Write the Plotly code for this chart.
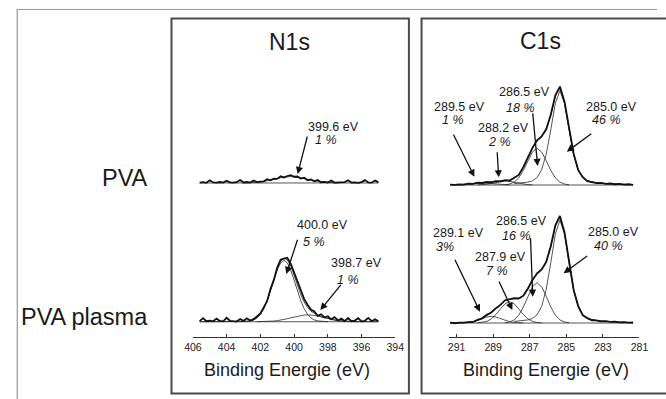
import numpy as np
import plotly.graph_objects as go

W, H = 666, 399

# ---------------- data (intensities in a.u.) ----------------
# N1s energy grid (eV) and spectra
N1S_E = np.round(np.linspace(405.6, 395.0, 54), 2)

n1s_pva_data = [0.4, 0.8, 0.2, 2.6, 0.5, 0.3, 0.9, 0.4, 2.2, 0.6, 0.3, 0.7, 2.8,
                0.5, 0.9, 0.4, 2.4, 0.8, 1.3, 1.6, 3.6, 2.5, 4.1, 3.9, 6.3, 5.2, 6.6,
                7.4, 5.9, 6.1, 4.2, 5.0, 2.6, 3.4, 1.6, 2.9, 0.7, 1.1, 0.5, 2.3, 0.4,
                0.6, 0.3, 0.8, 2.5, 0.4, 0.6, 0.2, 0.9, 2.7, 0.5, 0.3, 2.4, 0.6]
n1s_pva_fit = [0.07, 0.12, 0.22, 0.38, 0.61, 0.94, 1.39, 1.95, 2.63, 3.38, 4.16, 4.88,
               5.48, 5.86, 6.0, 5.86, 5.48, 4.88, 4.16, 3.38, 2.63, 1.95, 1.39, 0.94,
               0.61, 0.38, 0.22, 0.12, 0.07]          # grid index 13..41

n1s_pl_data = [0.6, 3.4, 0.5, 1.0, 0.4, 2.9, 0.7, 0.3, 3.8, 0.9, 0.5, 0.2, 2.6,
               0.8, 3.2, 1.1, 2.4, 5.1, 7.8, 13.6, 19.4, 30.8, 39.5, 51.2, 58.6, 59.6,
               60.4, 54.9, 46.3, 37.4, 28.2, 21.3, 16.0, 11.5, 9.6, 5.6, 7.1, 4.0, 5.2,
               2.3, 4.4, 1.2, 2.9, 0.6, 3.5, 0.5, 1.1,
               3.3, 0.4, 0.9, 3.6, 0.5, 2.2, 0.4]
n1s_pl_env = [0, 0, 0, 0, 0, 0, 0, 0, 0, 0, 0, 0, 0, 0.1, 0.3, 0.8, 1.7, 3.6, 7.0, 12.3,
              19.8, 29.4, 40.0, 49.8, 57.0, 60.1, 58.4, 52.5, 43.8, 34.3, 25.5, 18.6,
              13.4, 9.95, 7.6, 6.1, 4.8, 3.8, 2.85, 2.12, 1.5, 1.02, 0.66, 0.41, 0.24,
              0.13, 0.07, 0, 0, 0, 0, 0, 0, 0]
n1s_pl_c400 = [0.0, 0.1, 0.3, 0.8, 1.7, 3.6, 6.9, 12.2, 19.6, 29.0, 39.3, 48.8, 55.5,
               58.0, 55.5, 48.8, 39.3, 29.0, 19.6, 12.2, 6.9, 3.6, 1.7, 0.8, 0.3, 0.1,
               0.0]                                   # grid index 12..38
n1s_pl_c398 = [0.04, 0.07, 0.13, 0.24, 0.41, 0.66, 1.02, 1.50, 2.12, 2.85, 3.66, 4.51,
               5.29, 5.93, 6.35, 6.5, 6.35, 5.93, 5.29, 4.51, 3.66, 2.85, 2.12, 1.50,
               1.02, 0.66, 0.41, 0.24, 0.13, 0.07, 0.04]   # grid index 17..47

# C1s energy grid (eV) and spectra
C1S_E = np.round(np.linspace(291.35, 281.35, 41), 2)

c1s_pva_data = [0.4, 0.1, 0.6, 0.3, 1.2, 1.0, 2.2, 1.9, 2.8, 2.5, 3.7, 3.5, 4.6, 4.2,
                6.9, 9.5, 16.9, 26.4, 35.0, 42.1, 45.9, 52.6, 66.3, 84.6, 92.8, 78.6,
                52.0, 29.5, 14.0, 7.4, 3.7, 2.9, 1.8, 1.9, 1.1, 1.4, 0.7, 1.0, 0.4, 0.7,
                0.2]
c1s_pva_env = [0, 0.05, 0.15, 0.4, 0.8, 1.3, 1.8, 2.2, 2.5, 2.8, 3.3, 3.8, 4.2, 4.4,
               6.5, 9.8, 16.5, 26.0, 35.3, 41.6, 45.5, 52.0, 65.9, 83.8, 91.7, 78.0,
               52.3, 29.0, 14.3, 7.0, 4.0, 2.7, 2.0, 1.6, 1.3, 1.1, 0.9, 0.7, 0.6, 0.5,
               0.4]
c1s_pva_c285 = [1.3, 1.6, 2.0, 2.7, 4.0, 7.0, 14.3, 29.0, 52.1, 77.1, 89.0, 77.1, 52.1,
                29.0, 14.3, 7.0, 4.0, 2.7, 2.0, 1.6, 1.3]          # index 14..34
c1s_pva_c286 = [0.2, 0.9, 2.7, 6.7, 13.8, 23.0, 31.2, 34.6, 31.2, 23.0, 13.8, 6.7, 2.7,
                0.9, 0.2]                                          # index 12..26
c1s_pva_c288 = [0.1, 0.3, 0.7, 1.5, 2.5, 3.4, 3.8, 3.4, 2.5, 1.5, 0.7, 0.3, 0.1]  # 6..18
c1s_pva_c289 = [0.05, 0.15, 0.4, 0.8, 1.3, 1.7, 1.9, 1.7, 1.3, 0.8, 0.4, 0.15, 0.05]  # 1..13

c1s_pl_data = [0.3, -0.2, 0.4, 0.3, 0.9, 1.0, 2.9, 4.4, 7.7, 9.9, 14.0, 17.1, 21.5, 22.7,
               23.4, 23.2, 25.8, 32.6, 40.7, 46.9, 50.6, 57.6, 72.5, 92.2, 101.0, 85.6,
               57.7, 31.2, 16.0, 7.3, 4.6, 2.6, 2.5, 1.5, 1.8, 1.0, 1.3, 0.6, 0.9, 0.3,
               0.5]
c1s_pl_env = [0, 0, 0, 0.2, 0.5, 1.2, 2.6, 4.7, 7.2, 10.2, 13.6, 17.5, 20.9, 22.2, 22.9,
              22.6, 25.3, 32.0, 40.1, 46.2, 50.0, 56.9, 71.9, 91.4, 99.9, 85.0, 57.1,
              31.7, 15.6, 7.7, 4.3, 2.9, 2.2, 1.8, 1.5, 1.2, 1.0, 0.8, 0.6, 0.5, 0.4]
c1s_pl_c285 = [1.5, 1.8, 2.2, 2.9, 4.3, 7.7, 15.6, 31.7, 56.8, 84.0, 97.0, 84.0, 56.8,
               31.7, 15.6, 7.7, 4.3, 2.9, 2.2, 1.8, 1.5]           # index 14..34
c1s_pl_c286 = [0.3, 1.0, 2.9, 7.4, 15.1, 25.2, 34.3, 38.0, 34.3, 25.2, 15.1, 7.4, 2.9,
               1.0, 0.3]                                           # index 12..26
c1s_pl_c288 = [0.1, 0.5, 1.5, 3.9, 8.0, 13.3, 18.1, 20.0, 18.1, 13.3, 8.0, 3.9, 1.5,
               0.5, 0.1]                                           # index 6..20
c1s_pl_c289 = [0.0, 0.2, 0.5, 1.2, 2.5, 4.2, 5.7, 6.3, 5.7, 4.2, 2.5, 1.2, 0.5, 0.2,
               0.0]                                                # index 2..16

# vertical stacking offsets of the two samples (a.u.)
N1S_OFF = {"PVA": 145.3, "PVA plasma": 14.4}
C1S_OFF = {"PVA": 143.4, "PVA plasma": 13.2}

N1S_TICKS = [406, 404, 402, 400, 398, 396, 394]
C1S_TICKS = [291, 289, 287, 285, 283, 281]

ROW_LABELS = ["PVA", "PVA plasma"]
PANEL_TITLES = ["N1s", "C1s"]
AXIS_TITLE = "Binding Energie (eV)"

# peak labels: (energy text, percent text)
N1S_PVA_LABELS = [("399.6 eV", "1 %")]
N1S_PL_LABELS = [("400.0 eV", "5 %"), ("398.7 eV", "1 %")]
C1S_PVA_LABELS = [("289.5 eV", "1 %"), ("288.2 eV", "2 %"), ("286.5 eV", "18 %"), ("285.0 eV", "46 %")]
C1S_PL_LABELS = [("289.1 eV", "3%"), ("287.9 eV", "7 %"), ("286.5 eV", "16 %"), ("285.0 eV", "40 %")]

# ---------------- figure ----------------
FONT = "Liberation Sans, Arial, sans-serif"
DATA_C = "#111111"
FIT_C = "#2a2a2a"


def px(x):
    return x / W


def py(y):
    return 1 - y / H


fig = go.Figure()


def add_line(x, y, xa, ya, width, color):
    fig.add_trace(go.Scatter(x=x, y=y, mode="lines", xaxis=xa, yaxis=ya,
                             line=dict(color=color, width=width),
                             hoverinfo="skip", showlegend=False))


def add_spectrum(E, off, data, env, comps, xa, ya):
    add_line([E[0], E[-1]], [off, off], xa, ya, 0.8, FIT_C)
    for start, vals in comps:
        xs = E[start:start + len(vals)]
        add_line(xs, np.array(vals) + off, xa, ya, 0.8, FIT_C)
    if env is not None:
        add_line(E, np.array(env) + off, xa, ya, 0.8, FIT_C)
    add_line(E, np.array(data) + off, xa, ya, 1.8, DATA_C)


# N1s
add_spectrum(N1S_E, N1S_OFF["PVA"], n1s_pva_data, None, [(13, n1s_pva_fit)], "x", "y")
add_spectrum(N1S_E, N1S_OFF["PVA plasma"], n1s_pl_data, n1s_pl_env,
             [(12, n1s_pl_c400), (17, n1s_pl_c398)], "x", "y")
# C1s
add_spectrum(C1S_E, C1S_OFF["PVA"], c1s_pva_data, c1s_pva_env,
             [(14, c1s_pva_c285), (12, c1s_pva_c286), (6, c1s_pva_c288), (1, c1s_pva_c289)],
             "x2", "y2")
add_spectrum(C1S_E, C1S_OFF["PVA plasma"], c1s_pl_data, c1s_pl_env,
             [(14, c1s_pl_c285), (12, c1s_pl_c286), (6, c1s_pl_c288), (2, c1s_pl_c289)],
             "x2", "y2")

xcommon = dict(showline=True, linecolor="#333333", linewidth=1, ticks="inside",
               ticklen=3, tickcolor="#333333", showgrid=False, zeroline=False,
               tickfont=dict(family=FONT, size=10.5, color="#222222"))
ydom = [py(337), py(19)]
ycommon = dict(domain=ydom, range=[0, 300], visible=False, showgrid=False, zeroline=False)

fig.update_layout(
    width=W, height=H, margin=dict(l=0, r=0, t=0, b=0),
    paper_bgcolor="white", plot_bgcolor="rgba(0,0,0,0)",
    xaxis=dict(domain=[px(189), px(397)], range=[406, 394], tickvals=N1S_TICKS,
               anchor="y", **xcommon),
    yaxis=dict(anchor="x", **ycommon),
    xaxis2=dict(domain=[px(460 - 0.4 * 18.8), px(648)], range=[291.4, 281],
                tickvals=C1S_TICKS, anchor="y2", **xcommon),
    yaxis2=dict(anchor="x2", **ycommon),
)

shapes = [
    # outer frame (light grey)
    dict(type="line", xref="paper", yref="paper", x0=px(8), x1=1.0, y0=py(9.5), y1=py(9.5),
         line=dict(color="#999999", width=1.2)),
    dict(type="line", xref="paper", yref="paper", x0=px(8.5), x1=px(8.5), y0=py(9.5), y1=0.0,
         line=dict(color="#999999", width=1.2)),
    # panel boxes
    dict(type="rect", xref="paper", yref="paper", x0=px(167), x1=px(411), y0=py(393.5), y1=py(18.5),
         line=dict(color="#4a4a4a", width=2)),
    dict(type="rect", xref="paper", yref="paper", x0=px(424), x1=px(720), y0=py(393.5), y1=py(18.5),
         line=dict(color="#4a4a4a", width=2)),
]
fig.update_layout(shapes=shapes)

ann = []


def text(x, y, s, size, xanchor="center", italic=False):
    if italic:
        s = "<i>" + s + "</i>"
    ann.append(dict(xref="paper", yref="paper", x=px(x), y=py(y), text=s, showarrow=False,
                    xanchor=xanchor, yanchor="middle", borderpad=0,
                    font=dict(family=FONT, size=size, color="#1a1a1a")))


def arrow(tail, head):
    ann.append(dict(xref="paper", yref="paper", x=px(head[0]), y=py(head[1]), text="",
                    showarrow=True, ax=tail[0] - head[0], ay=tail[1] - head[1],
                    arrowhead=2, arrowsize=1.1, arrowwidth=1.3, arrowcolor="#111111",
                    standoff=0, startstandoff=0))


# panel titles, row labels, axis titles
text(288, 42, PANEL_TITLES[0], 23)
text(546, 41, PANEL_TITLES[1], 23)
text(144, 178, ROW_LABELS[0], 23.5, xanchor="right")
text(144, 317, ROW_LABELS[1], 23.5, xanchor="right")
text(286, 370, AXIS_TITLE, 18)
text(552, 370, AXIS_TITLE, 18)

# peak labels: energy line (left x, y), percent line (left x, y), arrow tail, arrow head
lab_pos = [
    (N1S_PVA_LABELS[0], (306, 127), (313.5, 140), (306.7, 135), (296.7, 174)),
    (N1S_PL_LABELS[0], (294.5, 225), (301.5, 242), (296.7, 238.3), (285, 274)),
    (N1S_PL_LABELS[1], (329.5, 263), (336.5, 280), (341.7, 283.3), (320, 310)),
    (C1S_PVA_LABELS[0], (436, 107), (444.5, 120.5), (456.7, 133.3), (478.3, 176.7)),
    (C1S_PVA_LABELS[1], (481, 128), (491.5, 142), (501.7, 150.7), (503.3, 177.3)),
    (C1S_PVA_LABELS[2], (502.5, 92.5), (509.5, 107.5), (538.3, 111.7), (543.3, 166)),
    (C1S_PVA_LABELS[3], (592, 107), (598, 120.5), (599.3, 132.7), (573.3, 151.7)),
    (C1S_PL_LABELS[0], (434.5, 233), (438, 247), (458.3, 258.3), (484, 311.7)),
    (C1S_PL_LABELS[1], (477.5, 256.5), (489.5, 270.5), (503.3, 280), (517.3, 310)),
    (C1S_PL_LABELS[2], (500, 220.5), (506, 235.5), (536, 236.7), (538.3, 296.7)),
    (C1S_PL_LABELS[3], (594.5, 231.5), (600.5, 245.5), (595, 255), (570, 273.3)),
]
for (ev, pc), p1, p2, tail, head in lab_pos:
    text(p1[0], p1[1], ev, 12.5, xanchor="left")
    text(p2[0], p2[1], pc, 12.5, xanchor="left", italic=True)
    arrow(tail, head)

fig.update_layout(annotations=ann)

fig.write_html("out.html",
               config={"displayModeBar": False, "staticPlot": True},
               post_script="document.body.style.margin='0px';"
                           "document.body.style.overflow='hidden';")
